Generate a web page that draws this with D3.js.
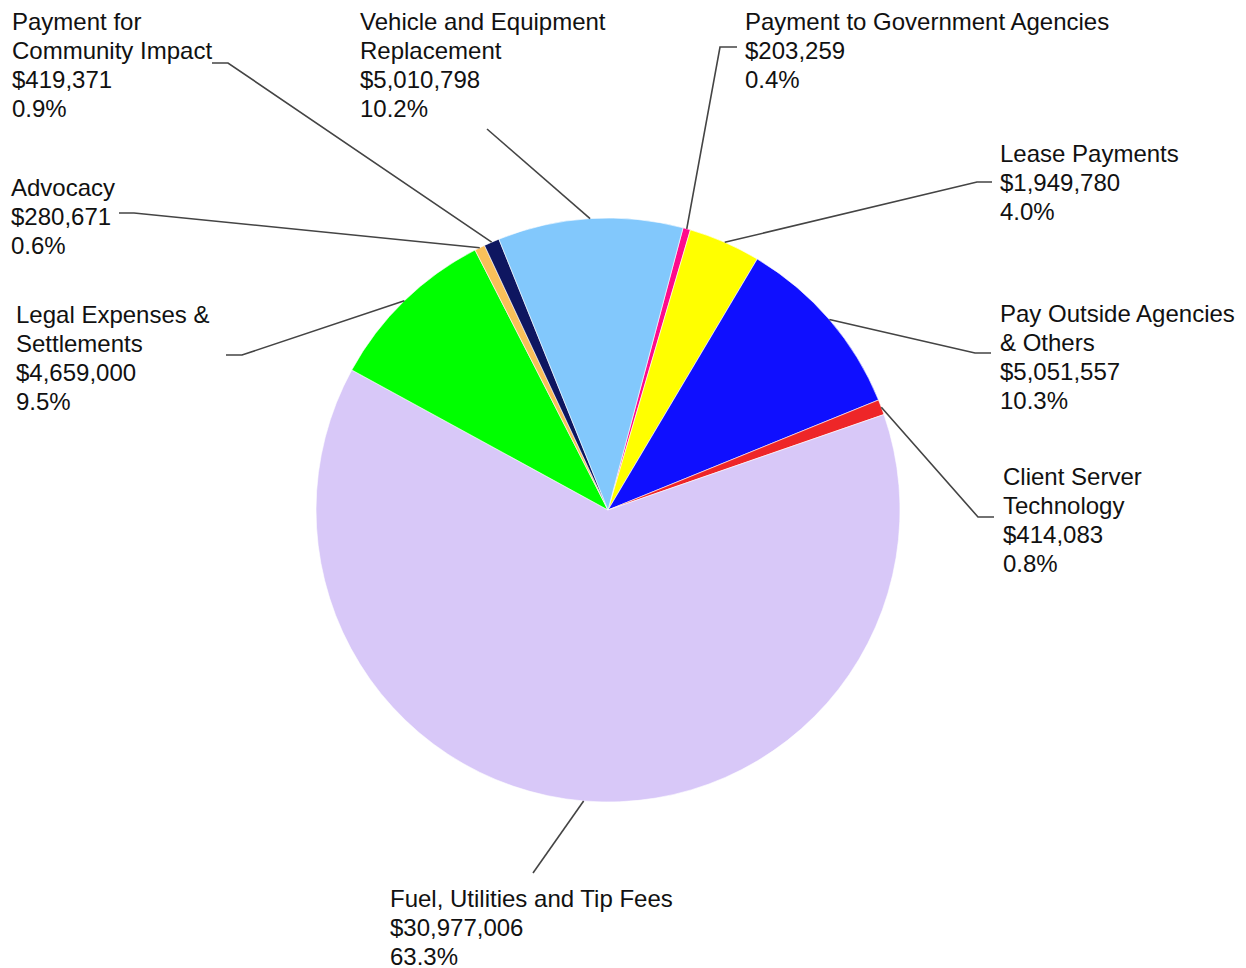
<!DOCTYPE html>
<html>
<head>
<meta charset="utf-8">
<script src="https://cdn.jsdelivr.net/npm/d3@7"></script>
<style>
  html, body { margin: 0; padding: 0; background: #fff; }
  svg { display: block; }
</style>
</head>
<body>
<svg id="chart" width="1246" height="968"></svg>
<script>
// Expense categories, clockwise from the first slice
const categories = [
  ["Payment to Government Agencies"],
  ["Lease Payments"],
  ["Pay Outside Agencies", "& Others"],
  ["Client Server", "Technology"],
  ["Fuel, Utilities and Tip Fees"],
  ["Legal Expenses &", "Settlements"],
  ["Advocacy"],
  ["Payment for", "Community Impact"],
  ["Vehicle and Equipment", "Replacement"]
];
// Budgeted amounts in dollars
const amounts = [203259, 1949780, 5051557, 414083, 30977006, 4659000, 280671, 419371, 5010798];
// Slice fills
const sliceColors = ["#ff0a8c", "#ffff00", "#0f0fff", "#ee2628", "#d8c8f8", "#00ff00", "#f9c05a", "#0e1660", "#82c8fc"];

// Label placement: text origin (x, first baseline), elbow of leader line,
// and the far end of the short horizontal tick (null when there is none)
const labelLayout = [
  { tx: 745,  ty: 30,  ex: 720, ey: 47,  hx: 737 },
  { tx: 1000, ty: 162, ex: 977, ey: 182, hx: 992 },
  { tx: 1000, ty: 322, ex: 975, ey: 353, hx: 991 },
  { tx: 1003, ty: 485, ex: 978, ey: 517, hx: 994 },
  { tx: 390,  ty: 907, ex: 533, ey: 873, hx: null },
  { tx: 16,   ty: 323, ex: 242, ey: 355, hx: 226 },
  { tx: 11,   ty: 196, ex: 134, ey: 213, hx: 119 },
  { tx: 12,   ty: 30,  ex: 228, ey: 63,  hx: 212 },
  { tx: 360,  ty: 30,  ex: 487, ey: 129, hx: null }
];

const cx = 608, cy = 510, radius = 292;
const startDeg = 14.9;
const lineHeight = 29;

const svg = d3.select("#chart");
const total = d3.sum(amounts);
const fmtMoney = v => "$" + d3.format(",")(v);
const fmtPct = d3.format(".1%");

const pie = d3.pie()
  .sort(null)
  .value(d => d.value)
  .startAngle(startDeg * Math.PI / 180)
  .endAngle(startDeg * Math.PI / 180 + 2 * Math.PI);

const data = amounts.map((v, i) => ({
  value: v,
  lines: categories[i],
  color: sliceColors[i],
  layout: labelLayout[i]
}));
const arcs = pie(data);

const arc = d3.arc().innerRadius(0).outerRadius(radius);

const g = svg.append("g").attr("transform", `translate(${cx},${cy})`);

g.selectAll("path.slice")
  .data(arcs)
  .join("path")
  .attr("class", "slice")
  .attr("d", arc)
  .attr("fill", d => d.data.color)
  .attr("stroke", "#ffffff")
  .attr("stroke-width", 0.6);

// Leader lines from the slice rim to the label
const rimPoint = d => {
  const a = (d.startAngle + d.endAngle) / 2;
  return [cx + radius * Math.sin(a), cy - radius * Math.cos(a)];
};

svg.append("g")
  .selectAll("path.leader")
  .data(arcs)
  .join("path")
  .attr("class", "leader")
  .attr("fill", "none")
  .attr("stroke", "#444")
  .attr("stroke-width", 1.6)
  .attr("d", d => {
    const p = rimPoint(d);
    const L = d.data.layout;
    const pts = [p, [L.ex, L.ey]];
    if (L.hx !== null) pts.push([L.hx, L.ey]);
    return d3.line()(pts);
  });

// Label text: name lines, amount, share
const labels = svg.append("g")
  .attr("font-family", "'Liberation Sans', Arial, Helvetica, sans-serif")
  .attr("font-size", 24)
  .attr("fill", "#111");

arcs.forEach(d => {
  const L = d.data.layout;
  const rows = d.data.lines.concat([fmtMoney(d.data.value), fmtPct(d.data.value / total)]);
  const t = labels.append("text").attr("x", L.tx).attr("y", L.ty);
  rows.forEach((r, k) => {
    t.append("tspan").attr("x", L.tx).attr("y", L.ty + k * lineHeight).text(r);
  });
});
</script>
</body>
</html>
